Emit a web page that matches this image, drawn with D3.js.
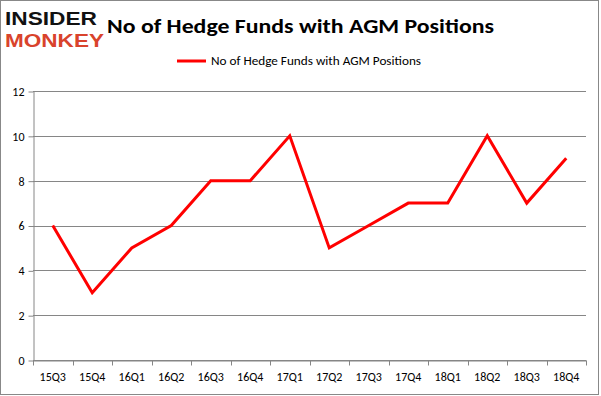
<!DOCTYPE html>
<html>
<head>
<meta charset="utf-8">
<script src="https://cdn.jsdelivr.net/npm/d3@7"></script>
<style>
  body { margin: 0; background: #fff; }
  text { font-family: Calibri, Carlito, "Open Sans", sans-serif; }
</style>
</head>
<body>
<div id="chart"></div>
<script>
// Chart data
const quarters = ["15Q3", "15Q4", "16Q1", "16Q2", "16Q3", "16Q4", "17Q1", "17Q2", "17Q3", "17Q4", "18Q1", "18Q2", "18Q3", "18Q4"];
const fundCounts = [6, 3, 5, 6, 8, 8, 10, 5, 6, 7, 7, 10, 7, 9];
const yTicks = [0, 2, 4, 6, 8, 10, 12];
const seriesName = "No of Hedge Funds with AGM Positions";
const chartTitle = "No of Hedge Funds with AGM Positions";

var width = 601, height = 396;
var margin = { top: 91, right: 15, bottom: 36, left: 33 };

var svg = d3.select("#chart")
    .append("svg")
    .attr("width", width)
    .attr("height", height);

// Outer border
svg.append("rect")
    .attr("x", 0.5).attr("y", 0.5)
    .attr("width", 598).attr("height", 394)
    .attr("fill", "#fff")
    .attr("stroke", "#888")
    .attr("stroke-width", 1);

// Scales
var x = d3.scaleBand()
    .domain(quarters)
    .range([margin.left, width - margin.right]);

var y = d3.scaleLinear()
    .domain([0, 12])
    .range([height - margin.bottom, margin.top]);

// Gridlines
svg.append("g")
    .selectAll("line")
    .data(yTicks)
    .enter()
    .append("line")
    .attr("x1", margin.left)
    .attr("x2", width - margin.right)
    .attr("y1", d => Math.round(y(d)) + 0.5)
    .attr("y2", d => Math.round(y(d)) + 0.5)
    .attr("stroke", "#868686");

// Y axis
var yAxis = svg.append("g")
    .attr("transform", "translate(" + (margin.left + 0.5) + ",0.5)")
    .call(d3.axisLeft(y).tickValues(yTicks).tickSize(5).tickSizeOuter(0).tickPadding(4));

// X axis
var xAxis = svg.append("g")
    .attr("transform", "translate(0," + (Math.round(y(0)) + 0.5) + ")")
    .call(d3.axisBottom(x).tickSize(0).tickPadding(12));

// x ticks sit at band boundaries
xAxis.selectAll(".bound")
    .data(quarters.concat(["end"]))
    .enter()
    .append("line")
    .attr("class", "bound")
    .attr("x1", (d, i) => Math.round(margin.left + i * x.step()) + 0.5)
    .attr("x2", (d, i) => Math.round(margin.left + i * x.step()) + 0.5)
    .attr("y1", 0).attr("y2", 5)
    .attr("stroke", "#868686");

[yAxis, xAxis].forEach(function(ax) {
    ax.selectAll(".domain").attr("stroke", "#868686");
    ax.selectAll(".tick line").attr("stroke", "#868686");
    ax.selectAll("text")
        .attr("fill", "#000")
        .style("font-size", "12px");
});

// Line
var line = d3.line()
    .x((d, i) => x(quarters[i]) + x.bandwidth() / 2)
    .y(d => y(d));

svg.append("path")
    .datum(fundCounts)
    .attr("fill", "none")
    .attr("stroke", "#ff0000")
    .attr("stroke-width", 3)
    .attr("stroke-linejoin", "miter")
    .attr("d", line);

// Title
svg.append("text")
    .attr("x", 107).attr("y", 33)
    .attr("textLength", 387)
    .attr("lengthAdjust", "spacingAndGlyphs")
    .style("font-size", "21px")
    .style("font-weight", "bold")
    .attr("fill", "#000")
    .text(chartTitle);

// Legend
svg.append("line")
    .attr("x1", 177).attr("x2", 206)
    .attr("y1", 61).attr("y2", 61)
    .attr("stroke", "#ff0000")
    .attr("stroke-width", 3);

svg.append("text")
    .attr("x", 211).attr("y", 65)
    .attr("textLength", 210)
    .attr("lengthAdjust", "spacingAndGlyphs")
    .style("font-size", "12px")
    .attr("fill", "#000")
    .text(seriesName);

// Logo
svg.append("text")
    .attr("x", 5).attr("y", 25)
    .attr("textLength", 92)
    .attr("lengthAdjust", "spacingAndGlyphs")
    .style("font-family", "'Liberation Sans', sans-serif")
    .style("font-size", "19px")
    .style("font-weight", "bold")
    .attr("fill", "#111")
    .text("INSIDER");

svg.append("text")
    .attr("x", 5).attr("y", 47)
    .attr("textLength", 99)
    .attr("lengthAdjust", "spacingAndGlyphs")
    .style("font-family", "'Liberation Sans', sans-serif")
    .style("font-size", "19px")
    .style("font-weight", "bold")
    .attr("fill", "#d9432c")
    .text("MONKEY");
</script>
</body>
</html>
